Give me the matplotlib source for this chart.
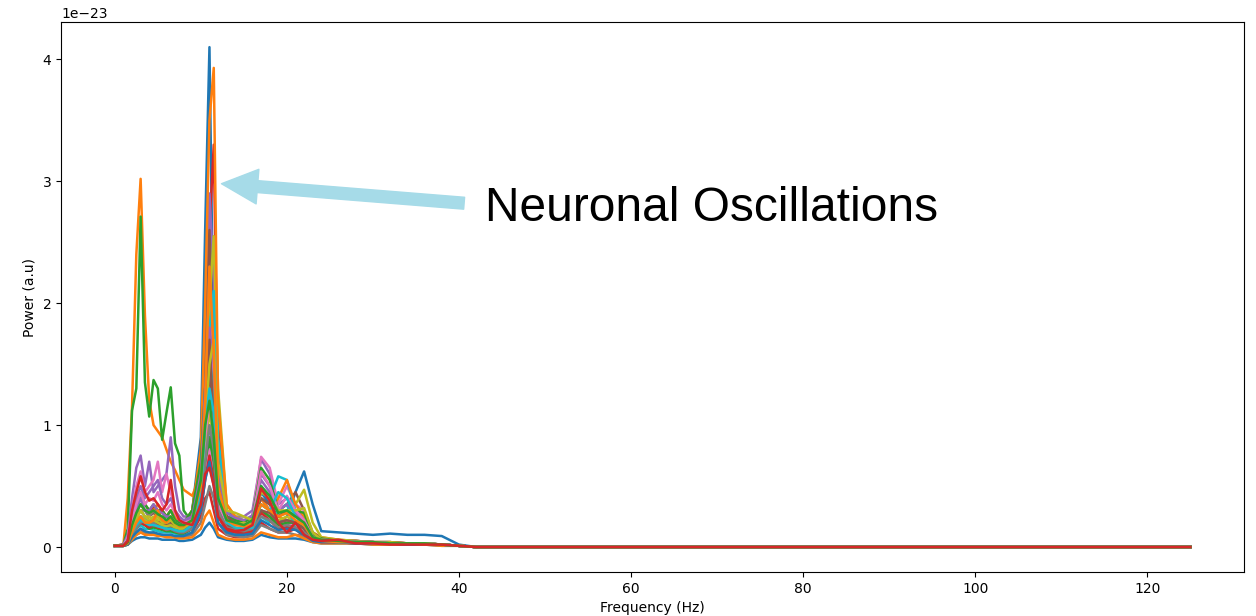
import numpy as np
import matplotlib
matplotlib.use('Agg')
import matplotlib.pyplot as plt

# power spectra, one list per channel, in units of 1e-23
freqs = [0, 1, 1.5, 2, 2.5, 3, 3.5, 4, 4.5, 5, 5.5, 6, 6.5, 7, 7.5, 8, 9, 10, 10.5, 11,
         11.5, 12, 13, 14, 15, 16, 17, 18, 19, 20, 21, 22, 23, 24, 26, 28, 30, 32, 34, 36,
         38, 40, 42, 125]

ch00 = [0.01, 0.01, 0.05, 0.15, 0.25, 0.3, 0.25, 0.22, 0.2, 0.2, 0.18, 0.17, 0.18, 0.17, 0.16, 0.18, 0.3, 0.9, 2.6, 4.1,
        1.5, 0.5, 0.2, 0.15, 0.15, 0.18, 0.3, 0.25, 0.2, 0.25, 0.45, 0.62, 0.35, 0.13, 0.12, 0.11, 0.1, 0.11, 0.1, 0.1,
        0.09, 0.02, 0.0, 0.0]
ch01 = [0.01, 0.02, 0.4, 1.15, 2.4, 3.02, 1.9, 1.2, 1.0, 0.95, 0.9, 0.8, 0.7, 0.63, 0.55, 0.47, 0.42, 0.6, 1.1, 1.5,
        0.9, 0.4, 0.25, 0.2, 0.18, 0.2, 0.35, 0.3, 0.25, 0.22, 0.2, 0.18, 0.12, 0.08, 0.06, 0.05, 0.04, 0.04, 0.03, 0.03,
        0.02, 0.01, 0.0, 0.0]
ch02 = [0.01, 0.02, 0.15, 1.12, 1.3, 2.71, 1.35, 1.07, 1.37, 1.3, 0.88, 1.1, 1.31, 0.85, 0.75, 0.3, 0.2, 0.35, 0.6, 0.9,
        0.6, 0.3, 0.18, 0.15, 0.14, 0.16, 0.3, 0.25, 0.2, 0.18, 0.17, 0.15, 0.1, 0.07, 0.05, 0.04, 0.04, 0.03, 0.03, 0.03,
        0.02, 0.01, 0.0, 0.0]
ch03 = [0.01, 0.02, 0.08, 0.25, 0.35, 0.4, 0.35, 0.3, 0.32, 0.3, 0.3, 0.25, 0.3, 0.25, 0.2, 0.2, 0.2, 0.5, 1.4, 2.6,
        3.3, 1.0, 0.3, 0.2, 0.18, 0.22, 0.4, 0.3, 0.2, 0.15, 0.18, 0.12, 0.08, 0.06, 0.05, 0.05, 0.04, 0.04, 0.03, 0.03,
        0.02, 0.01, 0.0, 0.0]
ch04 = [0.01, 0.02, 0.1, 0.4, 0.65, 0.75, 0.5, 0.7, 0.45, 0.5, 0.55, 0.6, 0.9, 0.5, 0.3, 0.25, 0.25, 0.6, 1.5, 2.9,
        2.2, 0.8, 0.3, 0.25, 0.25, 0.3, 0.72, 0.6, 0.35, 0.4, 0.3, 0.25, 0.1, 0.07, 0.05, 0.05, 0.04, 0.04, 0.03, 0.03,
        0.02, 0.01, 0.0, 0.0]
ch05 = [0.01, 0.01, 0.05, 0.2, 0.3, 0.35, 0.3, 0.25, 0.28, 0.25, 0.22, 0.2, 0.2, 0.18, 0.17, 0.18, 0.3, 0.8, 1.6, 2.6,
        1.4, 0.7, 0.3, 0.22, 0.2, 0.22, 0.4, 0.35, 0.3, 0.35, 0.45, 0.3, 0.12, 0.07, 0.05, 0.05, 0.04, 0.04, 0.03, 0.03,
        0.02, 0.01, 0.0, 0.0]
ch06 = [0.01, 0.01, 0.08, 0.3, 0.5, 0.62, 0.45, 0.5, 0.55, 0.7, 0.45, 0.6, 0.45, 0.3, 0.25, 0.2, 0.22, 0.5, 1.2, 1.9,
        1.3, 0.5, 0.25, 0.2, 0.2, 0.25, 0.74, 0.65, 0.35, 0.5, 0.35, 0.3, 0.1, 0.07, 0.05, 0.04, 0.04, 0.03, 0.03, 0.03,
        0.02, 0.01, 0.0, 0.0]
ch07 = [0.01, 0.01, 0.05, 0.15, 0.25, 0.3, 0.3, 0.25, 0.3, 0.25, 0.3, 0.2, 0.25, 0.2, 0.15, 0.15, 0.2, 0.5, 1.3, 2.3,
        1.8, 0.6, 0.25, 0.2, 0.18, 0.2, 0.3, 0.25, 0.2, 0.22, 0.2, 0.15, 0.08, 0.06, 0.05, 0.04, 0.04, 0.03, 0.03, 0.03,
        0.02, 0.01, 0.0, 0.0]
ch08 = [0.01, 0.01, 0.05, 0.15, 0.25, 0.3, 0.25, 0.22, 0.25, 0.22, 0.2, 0.2, 0.22, 0.2, 0.18, 0.18, 0.25, 0.6, 1.2, 2.0,
        2.55, 1.3, 0.35, 0.25, 0.22, 0.2, 0.35, 0.3, 0.25, 0.28, 0.35, 0.47, 0.2, 0.08, 0.06, 0.05, 0.04, 0.04, 0.03, 0.03,
        0.02, 0.01, 0.0, 0.0]
ch09 = [0.01, 0.01, 0.05, 0.15, 0.2, 0.25, 0.2, 0.2, 0.18, 0.18, 0.17, 0.15, 0.15, 0.15, 0.14, 0.15, 0.2, 0.5, 1.1, 1.8,
        2.1, 0.9, 0.3, 0.2, 0.18, 0.2, 0.5, 0.4, 0.58, 0.55, 0.3, 0.2, 0.08, 0.06, 0.05, 0.04, 0.04, 0.03, 0.03, 0.03,
        0.02, 0.01, 0.0, 0.0]
ch10 = [0.01, 0.01, 0.04, 0.12, 0.2, 0.25, 0.22, 0.2, 0.2, 0.18, 0.17, 0.15, 0.15, 0.14, 0.13, 0.15, 0.2, 0.45, 0.8, 1.0,
        0.7, 0.35, 0.2, 0.15, 0.13, 0.15, 0.45, 0.35, 0.25, 0.3, 0.25, 0.2, 0.07, 0.05, 0.04, 0.04, 0.03, 0.03, 0.03, 0.02,
        0.02, 0.01, 0.0, 0.0]
ch11 = [0.01, 0.01, 0.05, 0.2, 0.3, 0.35, 0.3, 0.28, 0.3, 0.35, 0.3, 0.25, 0.3, 0.25, 0.2, 0.2, 0.3, 0.8, 2.0, 3.5,
        3.93, 1.2, 0.35, 0.25, 0.2, 0.2, 0.4, 0.3, 0.4, 0.55, 0.35, 0.25, 0.1, 0.07, 0.05, 0.04, 0.04, 0.03, 0.03, 0.03,
        0.02, 0.01, 0.0, 0.0]
ch12 = [0.01, 0.01, 0.05, 0.2, 0.35, 0.45, 0.35, 0.3, 0.35, 0.3, 0.3, 0.25, 0.3, 0.22, 0.2, 0.2, 0.3, 0.7, 1.3, 1.6,
        1.1, 0.45, 0.25, 0.22, 0.2, 0.25, 0.65, 0.55, 0.3, 0.35, 0.3, 0.28, 0.1, 0.07, 0.05, 0.04, 0.04, 0.03, 0.03, 0.03,
        0.02, 0.01, 0.0, 0.0]
ch13 = [0.01, 0.01, 0.03, 0.08, 0.12, 0.15, 0.12, 0.1, 0.12, 0.1, 0.1, 0.09, 0.1, 0.08, 0.08, 0.08, 0.12, 0.25, 0.4, 0.45,
        0.3, 0.15, 0.1, 0.08, 0.08, 0.1, 0.2, 0.15, 0.12, 0.12, 0.15, 0.08, 0.05, 0.04, 0.04, 0.03, 0.03, 0.03, 0.02, 0.02,
        0.02, 0.01, 0.0, 0.0]
ch14 = [0.01, 0.01, 0.04, 0.15, 0.3, 0.4, 0.3, 0.3, 0.35, 0.3, 0.28, 0.25, 0.25, 0.2, 0.18, 0.18, 0.25, 0.5, 0.9, 1.3,
        1.0, 0.4, 0.22, 0.2, 0.18, 0.22, 0.6, 0.5, 0.3, 0.35, 0.3, 0.22, 0.08, 0.06, 0.05, 0.04, 0.04, 0.03, 0.03, 0.03,
        0.02, 0.01, 0.0, 0.0]
ch15 = [0.01, 0.01, 0.04, 0.12, 0.2, 0.25, 0.2, 0.2, 0.22, 0.2, 0.2, 0.18, 0.18, 0.15, 0.15, 0.15, 0.22, 0.5, 1.0, 1.4,
        1.2, 0.5, 0.25, 0.2, 0.18, 0.2, 0.4, 0.35, 0.25, 0.3, 0.25, 0.2, 0.08, 0.06, 0.05, 0.04, 0.04, 0.03, 0.03, 0.02,
        0.02, 0.01, 0.0, 0.0]
ch16 = [0.01, 0.01, 0.03, 0.1, 0.18, 0.22, 0.2, 0.18, 0.2, 0.18, 0.17, 0.15, 0.15, 0.13, 0.12, 0.12, 0.15, 0.3, 0.6, 0.8,
        0.6, 0.25, 0.15, 0.13, 0.12, 0.14, 0.3, 0.25, 0.18, 0.2, 0.18, 0.14, 0.06, 0.05, 0.04, 0.04, 0.03, 0.03, 0.03, 0.02,
        0.02, 0.01, 0.0, 0.0]
ch17 = [0.01, 0.01, 0.02, 0.07, 0.1, 0.12, 0.12, 0.1, 0.1, 0.1, 0.09, 0.09, 0.09, 0.08, 0.08, 0.08, 0.1, 0.2, 0.35, 0.5,
        0.4, 0.2, 0.1, 0.09, 0.08, 0.09, 0.18, 0.15, 0.12, 0.12, 0.1, 0.09, 0.05, 0.04, 0.04, 0.03, 0.03, 0.03, 0.02, 0.02,
        0.02, 0.01, 0.0, 0.0]
ch18 = [0.01, 0.01, 0.04, 0.15, 0.22, 0.3, 0.25, 0.25, 0.22, 0.25, 0.2, 0.2, 0.22, 0.18, 0.15, 0.15, 0.2, 0.4, 0.8, 1.1,
        0.9, 0.35, 0.2, 0.18, 0.2, 0.18, 0.35, 0.3, 0.22, 0.25, 0.2, 0.18, 0.07, 0.05, 0.04, 0.04, 0.03, 0.03, 0.03, 0.02,
        0.02, 0.01, 0.0, 0.0]
ch19 = [0.01, 0.01, 0.03, 0.1, 0.15, 0.18, 0.15, 0.15, 0.14, 0.13, 0.12, 0.12, 0.12, 0.11, 0.1, 0.1, 0.15, 0.4, 1.0, 1.6,
        1.2, 0.4, 0.15, 0.12, 0.12, 0.12, 0.25, 0.2, 0.3, 0.35, 0.15, 0.12, 0.05, 0.04, 0.04, 0.03, 0.03, 0.03, 0.02, 0.02,
        0.02, 0.01, 0.0, 0.0]
ch20 = [0.01, 0.01, 0.02, 0.05, 0.07, 0.08, 0.08, 0.07, 0.07, 0.07, 0.06, 0.06, 0.06, 0.06, 0.05, 0.05, 0.06, 0.1, 0.16, 0.2,
        0.15, 0.08, 0.06, 0.05, 0.05, 0.06, 0.1, 0.08, 0.07, 0.07, 0.07, 0.06, 0.04, 0.03, 0.03, 0.03, 0.02, 0.02, 0.02, 0.02,
        0.01, 0.01, 0.0, 0.0]
ch21 = [0.01, 0.01, 0.02, 0.06, 0.1, 0.12, 0.1, 0.1, 0.1, 0.09, 0.09, 0.08, 0.08, 0.08, 0.07, 0.07, 0.08, 0.15, 0.25, 0.3,
        0.2, 0.1, 0.07, 0.06, 0.06, 0.07, 0.12, 0.1, 0.08, 0.08, 0.1, 0.07, 0.04, 0.03, 0.03, 0.03, 0.02, 0.02, 0.02, 0.02,
        0.01, 0.01, 0.0, 0.0]
ch22 = [0.01, 0.01, 0.03, 0.1, 0.15, 0.2, 0.18, 0.15, 0.16, 0.15, 0.14, 0.13, 0.13, 0.12, 0.11, 0.11, 0.15, 0.35, 0.7, 0.9,
        0.7, 0.3, 0.15, 0.12, 0.12, 0.13, 0.3, 0.25, 0.18, 0.2, 0.2, 0.15, 0.06, 0.05, 0.04, 0.04, 0.03, 0.03, 0.03, 0.02,
        0.02, 0.01, 0.0, 0.0]
ch23 = [0.01, 0.01, 0.03, 0.1, 0.16, 0.2, 0.18, 0.16, 0.18, 0.16, 0.15, 0.14, 0.15, 0.13, 0.12, 0.12, 0.15, 0.3, 0.55, 0.75,
        0.55, 0.25, 0.13, 0.12, 0.11, 0.13, 0.28, 0.22, 0.15, 0.17, 0.15, 0.12, 0.06, 0.04, 0.04, 0.03, 0.03, 0.03, 0.02, 0.02,
        0.02, 0.01, 0.0, 0.0]
ch24 = [0.01, 0.01, 0.05, 0.25, 0.4, 0.5, 0.4, 0.45, 0.5, 0.55, 0.4, 0.35, 0.4, 0.3, 0.25, 0.22, 0.25, 0.6, 1.3, 1.8,
        1.5, 0.6, 0.28, 0.24, 0.22, 0.26, 0.55, 0.45, 0.3, 0.35, 0.28, 0.2, 0.08, 0.06, 0.05, 0.04, 0.04, 0.03, 0.03, 0.03,
        0.02, 0.01, 0.0, 0.0]
ch25 = [0.01, 0.01, 0.03, 0.12, 0.18, 0.22, 0.2, 0.18, 0.2, 0.18, 0.16, 0.15, 0.16, 0.14, 0.13, 0.13, 0.18, 0.45, 1.1, 1.7,
        1.0, 0.35, 0.18, 0.15, 0.14, 0.16, 0.3, 0.28, 0.2, 0.22, 0.2, 0.15, 0.07, 0.05, 0.04, 0.04, 0.03, 0.03, 0.03, 0.02,
        0.02, 0.01, 0.0, 0.0]
ch26 = [0.01, 0.01, 0.04, 0.2, 0.35, 0.45, 0.35, 0.4, 0.38, 0.45, 0.35, 0.3, 0.35, 0.28, 0.22, 0.2, 0.22, 0.45, 0.9, 1.2,
        0.9, 0.35, 0.2, 0.18, 0.18, 0.22, 0.62, 0.5, 0.3, 0.42, 0.3, 0.22, 0.08, 0.06, 0.05, 0.04, 0.04, 0.03, 0.03, 0.03,
        0.02, 0.01, 0.0, 0.0]
ch27 = [0.01, 0.01, 0.03, 0.1, 0.15, 0.2, 0.22, 0.18, 0.2, 0.17, 0.16, 0.14, 0.15, 0.13, 0.12, 0.12, 0.15, 0.35, 0.7, 1.0,
        0.8, 0.3, 0.16, 0.14, 0.13, 0.15, 0.25, 0.22, 0.16, 0.18, 0.16, 0.12, 0.06, 0.05, 0.04, 0.04, 0.03, 0.03, 0.03, 0.02,
        0.02, 0.01, 0.0, 0.0]
ch28 = [0.01, 0.01, 0.04, 0.15, 0.2, 0.25, 0.22, 0.2, 0.22, 0.2, 0.18, 0.17, 0.18, 0.16, 0.15, 0.16, 0.22, 0.5, 1.0, 1.5,
        1.7, 0.7, 0.3, 0.28, 0.25, 0.22, 0.45, 0.4, 0.3, 0.3, 0.3, 0.32, 0.12, 0.06, 0.05, 0.04, 0.04, 0.03, 0.03, 0.03,
        0.02, 0.01, 0.0, 0.0]
ch29 = [0.01, 0.01, 0.03, 0.12, 0.18, 0.22, 0.2, 0.18, 0.18, 0.17, 0.16, 0.15, 0.15, 0.14, 0.13, 0.13, 0.18, 0.45, 1.0, 1.3,
        1.1, 0.45, 0.2, 0.16, 0.15, 0.16, 0.35, 0.3, 0.45, 0.4, 0.25, 0.18, 0.07, 0.05, 0.04, 0.04, 0.03, 0.03, 0.03, 0.02,
        0.02, 0.01, 0.0, 0.0]
ch30 = [0.01, 0.01, 0.02, 0.08, 0.12, 0.15, 0.13, 0.12, 0.12, 0.11, 0.1, 0.1, 0.1, 0.09, 0.09, 0.09, 0.12, 0.3, 0.55, 0.7,
        0.5, 0.2, 0.12, 0.1, 0.1, 0.11, 0.22, 0.18, 0.14, 0.15, 0.14, 0.1, 0.05, 0.04, 0.04, 0.03, 0.03, 0.03, 0.02, 0.02,
        0.02, 0.01, 0.0, 0.0]
ch31 = [0.01, 0.01, 0.03, 0.12, 0.2, 0.25, 0.2, 0.2, 0.22, 0.3, 0.22, 0.2, 0.25, 0.2, 0.17, 0.17, 0.22, 0.5, 1.2, 2.3,
        1.6, 0.5, 0.22, 0.18, 0.17, 0.18, 0.35, 0.3, 0.25, 0.28, 0.22, 0.18, 0.07, 0.05, 0.04, 0.04, 0.03, 0.03, 0.03, 0.02,
        0.02, 0.01, 0.0, 0.0]
ch32 = [0.01, 0.01, 0.04, 0.18, 0.28, 0.35, 0.3, 0.28, 0.3, 0.27, 0.25, 0.22, 0.25, 0.2, 0.18, 0.18, 0.22, 0.55, 1.0, 1.2,
        0.9, 0.4, 0.22, 0.2, 0.18, 0.22, 0.5, 0.42, 0.28, 0.3, 0.25, 0.2, 0.08, 0.06, 0.05, 0.04, 0.04, 0.03, 0.03, 0.03,
        0.02, 0.01, 0.0, 0.0]
ch33 = [0.01, 0.01, 0.05, 0.3, 0.45, 0.58, 0.45, 0.38, 0.4, 0.35, 0.3, 0.35, 0.55, 0.3, 0.22, 0.2, 0.18, 0.35, 0.6, 0.65,
        0.5, 0.25, 0.15, 0.13, 0.14, 0.18, 0.48, 0.38, 0.2, 0.12, 0.2, 0.1, 0.06, 0.05, 0.06, 0.03, 0.03, 0.02, 0.02, 0.02,
        0.02, 0.01, 0.0, 0.0]

channels = [ch00, ch01, ch02, ch03, ch04, ch05, ch06, ch07, ch08, ch09, ch10, ch11,
            ch12, ch13, ch14, ch15, ch16, ch17, ch18, ch19, ch20, ch21, ch22, ch23,
            ch24, ch25, ch26, ch27, ch28, ch29, ch30, ch31, ch32, ch33]

scale = 1e-23
freqs = np.array(freqs)

fig = plt.figure(figsize=(12.56, 6.16), dpi=100)
ax = fig.add_axes([0.0486, 0.0714, 0.9419, 0.8926])

for ch in channels:
    ax.plot(freqs, np.array(ch) * scale, linewidth=1.8)

ax.set_xlabel('Frequency (Hz)')
ax.set_ylabel('Power (a.u)')

# arrow pointing at the alpha peak
ax.annotate('', xy=(12.4, 2.98 * scale), xytext=(40.6, 2.82 * scale),
            arrowprops=dict(width=8.6, headwidth=25, headlength=26,
                            facecolor='#a6dbe8', edgecolor='#a6dbe8', shrink=0))
ax.text(43.0, 2.78 * scale, 'Neuronal Oscillations', fontsize=34.5,
        family='Liberation Sans', va='center', ha='left')

fig.savefig('out.png', dpi=100)
